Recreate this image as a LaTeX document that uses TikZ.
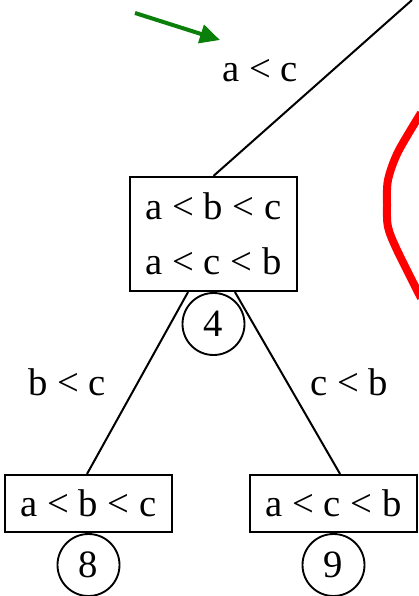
\documentclass[tikz,border=0pt]{standalone}
\usepackage{fontspec}
\setmainfont{Liberation Serif}
\usetikzlibrary{positioning,arrows.meta}
\definecolor{markgreen}{RGB}{10,128,10}

\begin{document}
\begin{tikzpicture}[x=0.75pt, y=-0.75pt,
    every node/.style={font=\fontsize{29}{41.25}\selectfont},
    order/.style={draw, line width=1.6pt, inner sep=0pt, minimum width=125.25pt, align=center},
    leaf/.style={circle, draw, line width=1.4pt, fill=white, minimum size=46.5pt, inner sep=0pt}]
    \useasboundingbox (0,0) rectangle (418,596);
    % Boxes
    \node[order, minimum height=85.5pt] (b4) at (213.5,234) {a < b < c\\a < c < b};
    \node[order, minimum height=42.75pt] (b8) at (88.5,503.5) {a < b < c};
    \node[order, minimum height=42.75pt] (b9) at (333.5,503.5) {a < c < b};
    \coordinate (up) at (412,0);
    % Edges
    \draw[line width=1.5pt] (b4.north) -- (up);
    \draw[line width=1.5pt] ([xshift=-19.1pt]b4.south) -- ([xshift=-1.1pt]b8.north);
    \draw[line width=1.5pt] ([xshift=16.1pt]b4.south) -- ([xshift=4.9pt]b9.north);
    \node (ac) at (260,71) {a < c};
    \node (bc) at (67,382) {b < c};
    \node (cb) at (349,382) {c < b};
    % Numbers
    \node[leaf, below=0pt of b4] (n4) {4};
    \node[leaf, below=0pt of b8] (n8) {8};
    \node[leaf, below=0pt of b9] (n9) {9};
    % Marks
    \coordinate (g1) at (135,13);
    \coordinate (g2) at (220,40);
    \draw[markgreen, line width=3pt, -{Triangle[length=15pt,width=14pt]}] (g1) -- (g2);
    \draw[red, line width=6pt, line join=round] plot[smooth] coordinates
        {(421,113) (398,152) (388,180) (387,205) (388,227) (397,250) (421,298)};
\end{tikzpicture}
\end{document}
